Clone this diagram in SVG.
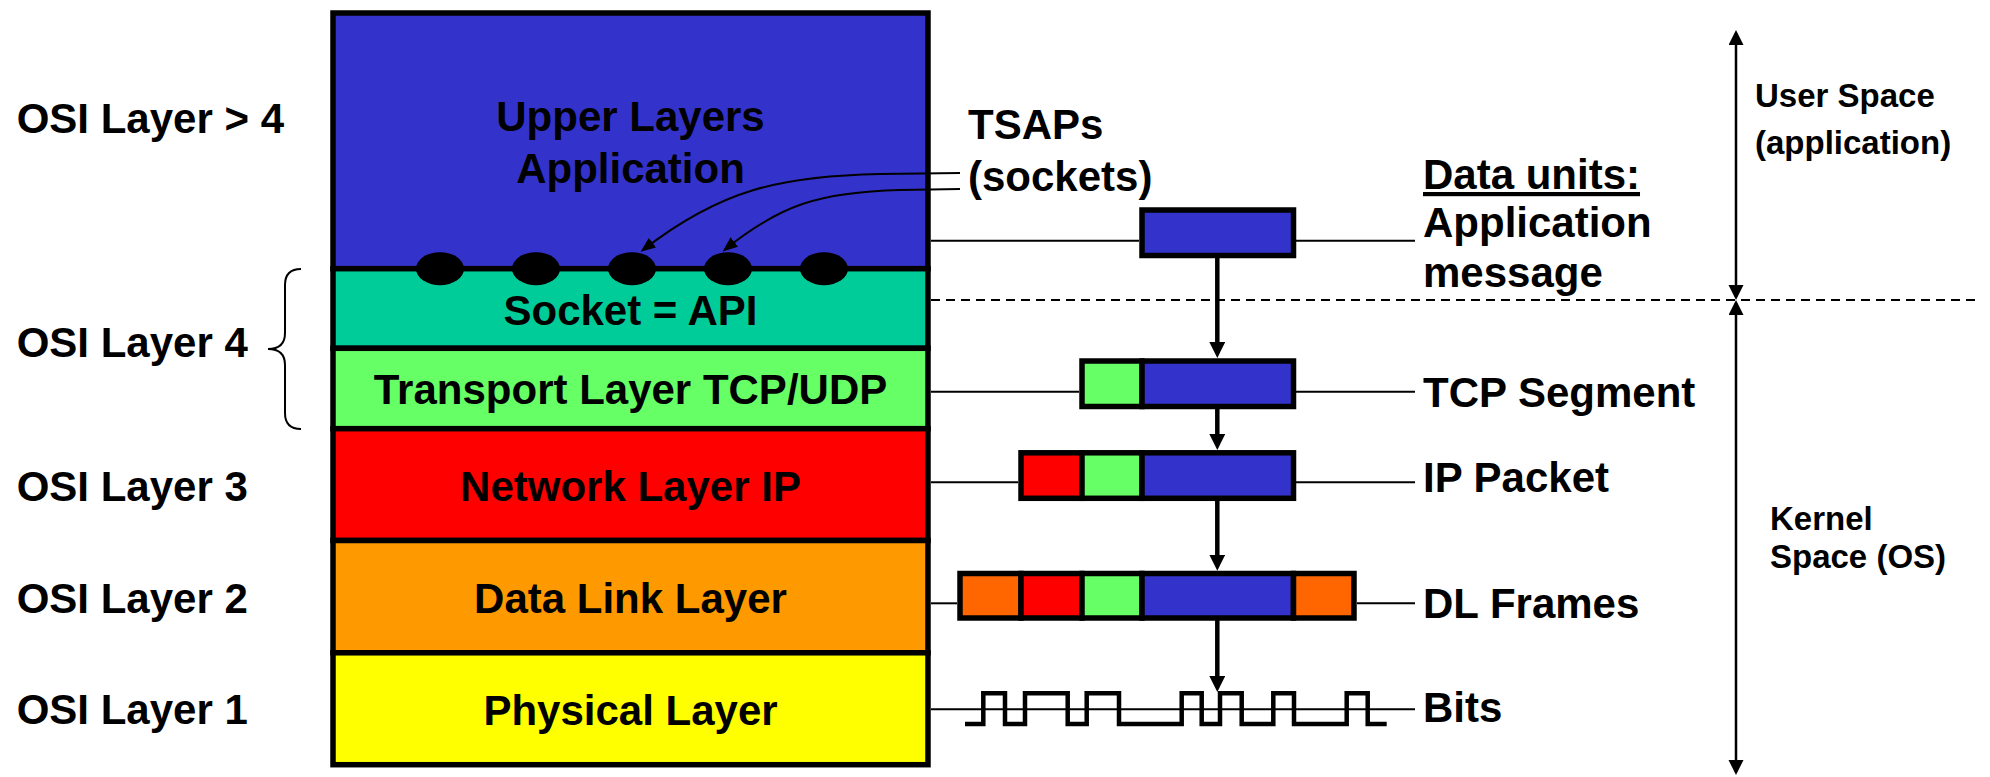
<svg xmlns="http://www.w3.org/2000/svg" width="1990" height="777" viewBox="0 0 1990 777">
<style>
.t{font-family:"Liberation Sans",Arial,sans-serif;font-weight:bold;font-size:42px;fill:#000}
.tc{text-anchor:middle}
.s{font-family:"Liberation Sans",Arial,sans-serif;font-weight:bold;font-size:33px;fill:#000}
.layer{stroke:#000;stroke-width:5.5}
.box{stroke:#000;stroke-width:5.5}
.thin{stroke:#000;stroke-width:2;fill:none}
.flow{stroke:#000;stroke-width:4.5;fill:none}
.side{stroke:#000;stroke-width:2.5;fill:none}
</style>
<defs>
<marker id="bigArrow" markerUnits="userSpaceOnUse" markerWidth="16" markerHeight="16" refX="6" refY="8" orient="auto">
<path d="M0,0 L16,8 L0,16 z" fill="#000"/>
</marker>
<marker id="sideArrow" markerUnits="userSpaceOnUse" markerWidth="16" markerHeight="16" refX="12" refY="7.5" orient="auto-start-reverse">
<path d="M0,0 L15,7.5 L0,15 z" fill="#000"/>
</marker>
<marker id="smallArrow" markerUnits="userSpaceOnUse" markerWidth="16" markerHeight="12" refX="12" refY="6" orient="auto">
<path d="M0,0 L15,6 L0,12 z" fill="#000"/>
</marker>
</defs>

<g id="stack">
<g id="upper-layers">
<rect class="layer" x="333" y="13" width="595" height="255.7" fill="#3333CC"/>
<text class="t tc" x="630.5" y="130.7">Upper Layers</text>
<text class="t tc" x="630.5" y="182.7">Application</text>
</g>
<g id="socket-api">
<rect class="layer" x="333" y="268.7" width="595" height="79.6" fill="#00CC99"/>
<text class="t tc" x="630.5" y="325">Socket = API</text>
</g>
<g id="transport-layer">
<rect class="layer" x="333" y="348.3" width="595" height="80.4" fill="#66FF66"/>
<text class="t tc" x="630.5" y="404">Transport Layer TCP/UDP</text>
</g>
<g id="network-layer">
<rect class="layer" x="333" y="428.7" width="595" height="111.8" fill="#FF0000"/>
<text class="t tc" x="630.5" y="500.7">Network Layer IP</text>
</g>
<g id="data-link-layer">
<rect class="layer" x="333" y="540.5" width="595" height="112.3" fill="#FF9900"/>
<text class="t tc" x="630.5" y="612.7">Data Link Layer</text>
</g>
<g id="physical-layer">
<rect class="layer" x="333" y="652.8" width="595" height="111.9" fill="#FFFF00"/>
<text class="t tc" x="630.5" y="725">Physical Layer</text>
</g>
<g id="sockets" fill="#000">
<ellipse cx="440" cy="268.7" rx="24" ry="16.5"/>
<ellipse cx="536" cy="268.7" rx="24" ry="16.5"/>
<ellipse cx="632" cy="268.7" rx="24" ry="16.5"/>
<ellipse cx="728" cy="268.7" rx="24" ry="16.5"/>
<ellipse cx="824" cy="268.7" rx="24" ry="16.5"/>
</g>
</g>

<g id="osi-labels">
<text class="t" x="16.7" y="132.7">OSI Layer &gt; 4</text>
<text class="t" x="16.7" y="356.7">OSI Layer 4</text>
<text class="t" x="16.7" y="501">OSI Layer 3</text>
<text class="t" x="16.7" y="612.7">OSI Layer 2</text>
<text class="t" x="16.7" y="724">OSI Layer 1</text>
<path class="thin" d="M301,269 Q285,269 285,285 L285,333 Q285,349 268,349 Q285,349 285,365 L285,413 Q285,429 301,429"/>
</g>

<g id="tsaps">
<text class="t" x="968" y="139">TSAPs</text>
<text class="t" x="968" y="191">(sockets)</text>
</g>

<g id="data-units-title">
<text class="t" x="1423" y="189" text-decoration="underline">Data units:</text>
</g>

<g id="app-message">
<rect class="box" x="1142" y="210" width="151.5" height="45.5" fill="#3333CC"/>
<text class="t" x="1423" y="236.7">Application</text>
<text class="t" x="1423" y="286.7">message</text>
</g>
<g id="tcp-segment">
<rect class="box" x="1082" y="361" width="60" height="45.5" fill="#66FF66"/>
<rect class="box" x="1142" y="361" width="151.5" height="45.5" fill="#3333CC"/>
<text class="t" x="1423" y="406.7">TCP Segment</text>
</g>
<g id="ip-packet">
<rect class="box" x="1021" y="452.8" width="61" height="45.5" fill="#FF0000"/>
<rect class="box" x="1082" y="452.8" width="60" height="45.5" fill="#66FF66"/>
<rect class="box" x="1142" y="452.8" width="151.5" height="45.5" fill="#3333CC"/>
<text class="t" x="1423" y="491.7">IP Packet</text>
</g>
<g id="dl-frames">
<rect class="box" x="960" y="573.5" width="61" height="44.5" fill="#FF6600"/>
<rect class="box" x="1021" y="573.5" width="61" height="44.5" fill="#FF0000"/>
<rect class="box" x="1082" y="573.5" width="60" height="44.5" fill="#66FF66"/>
<rect class="box" x="1142" y="573.5" width="151.5" height="44.5" fill="#3333CC"/>
<rect class="box" x="1293.5" y="573.5" width="60.5" height="44.5" fill="#FF6600"/>
<text class="t" x="1423" y="618">DL Frames</text>
</g>
<g id="bits">
<path d="M965,724 H983.3 V693.3 H1005 V724 H1025 V693.3 H1067.7 V724 H1086.7 V693.3 H1119 V724 H1181.7 V693.3 H1201.7 V724 H1220 V693.3 H1241.7 V724 H1273.3 V693.3 H1294 V724 H1346.7 V693.3 H1367.7 V724 H1386.7" fill="none" stroke="#000" stroke-width="4.5"/>
<text class="t" x="1423" y="721.7">Bits</text>
</g>

<g id="space-labels">
<text class="s" x="1755" y="107">User Space</text>
<text class="s" x="1755" y="154">(application)</text>
<text class="s" x="1770" y="530">Kernel</text>
<text class="s" x="1770" y="568">Space (OS)</text>
</g>

<g id="connectors">
<line class="thin" x1="931" y1="240.7" x2="1139" y2="240.7"/>
<line class="thin" x1="1296" y1="240.7" x2="1415" y2="240.7"/>
<line class="thin" x1="931" y1="391.7" x2="1079" y2="391.7"/>
<line class="thin" x1="1296" y1="391.7" x2="1415" y2="391.7"/>
<line class="thin" x1="931" y1="482.3" x2="1018" y2="482.3"/>
<line class="thin" x1="1296" y1="482.3" x2="1415" y2="482.3"/>
<line class="thin" x1="931" y1="603.3" x2="957" y2="603.3"/>
<line class="thin" x1="1357" y1="603.3" x2="1415" y2="603.3"/>
<line class="thin" x1="931" y1="709.3" x2="1415" y2="709.3"/>
<line class="thin" x1="931" y1="300" x2="1980" y2="300" stroke-dasharray="9 6"/>
<line class="flow" x1="1217.3" y1="258" x2="1217.3" y2="348" marker-end="url(#bigArrow)"/>
<line class="flow" x1="1217.3" y1="409" x2="1217.3" y2="440" marker-end="url(#bigArrow)"/>
<line class="flow" x1="1217.3" y1="500.7" x2="1217.3" y2="560.7" marker-end="url(#bigArrow)"/>
<line class="flow" x1="1217.3" y1="620" x2="1217.3" y2="682" marker-end="url(#bigArrow)"/>
<line class="side" x1="1736" y1="33" x2="1736" y2="297" marker-start="url(#sideArrow)" marker-end="url(#sideArrow)"/>
<line class="side" x1="1736" y1="303" x2="1736" y2="772" marker-start="url(#sideArrow)" marker-end="url(#sideArrow)"/>
<path class="thin" d="M960,173 L880,174 C780,176 720,190 643,250" marker-end="url(#smallArrow)"/>
<path class="thin" d="M960,189 L900,190 C820,192 780,205 725,249.5" marker-end="url(#smallArrow)"/>
</g>
</svg>
